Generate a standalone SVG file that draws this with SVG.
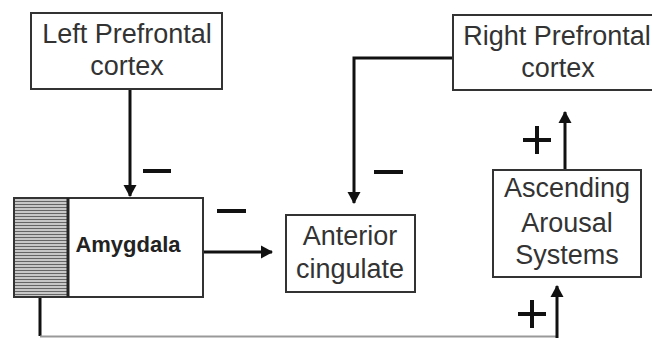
<svg xmlns="http://www.w3.org/2000/svg" width="652" height="338" viewBox="0 0 652 338">
<style>
.box{fill:#fff;stroke:#333;stroke-width:2}
.t{font-family:"Liberation Sans",Arial,sans-serif;font-size:27px;fill:#333;text-anchor:middle}
.b{font-family:"Liberation Sans",Arial,sans-serif;font-size:22px;font-weight:bold;fill:#222;text-anchor:middle}
.c{fill:none;stroke:#111;stroke-width:3}
.sign{stroke:#111;stroke-width:4;fill:none}
</style>
<defs>
<marker id="ah" markerWidth="12" markerHeight="15" viewBox="0 0 12 15" refX="11" refY="7.5" orient="auto" markerUnits="userSpaceOnUse">
<path d="M0,1 L12,7.5 L0,14 Z" fill="#111"/>
</marker>
<pattern id="hatch" width="6" height="3" patternUnits="userSpaceOnUse">
<rect width="6" height="3" fill="#c8c8c8"/>
<rect width="6" height="1" fill="#666"/>
</pattern>
</defs>
<rect width="652" height="338" fill="#fff"/>
<g id="connectors">
<path class="c" d="M130,89 V196" marker-end="url(#ah)"/>
<path class="c" d="M453,58 H354 V203" marker-end="url(#ah)"/>
<path class="c" d="M203,252 H272" marker-end="url(#ah)"/>
<path class="c" d="M565,170 V112" marker-end="url(#ah)"/>
<path class="c" d="M40,297 V336"/>
<path d="M40,336.5 H557" stroke="#999" stroke-width="2" fill="none"/>
<path class="c" d="M557,338 V286" marker-end="url(#ah)"/>
<path class="sign" d="M143,171 H171"/>
<path class="sign" d="M217,211 H246"/>
<path class="sign" d="M374,172 H403"/>
<path class="sign" d="M523,140 H551 M537,126 V154"/>
<path class="sign" d="M518,314 H546 M532,300 V328"/>
</g>
<g id="left-prefrontal">
<rect class="box" x="31" y="13" width="191" height="76"/>
<text class="t" x="127" y="43">Left Prefrontal</text>
<text class="t" x="127" y="75">cortex</text>
</g>
<g id="right-prefrontal">
<rect class="box" x="453" y="15" width="205" height="75"/>
<text class="t" x="557" y="45">Right Prefrontal</text>
<text class="t" x="558" y="77">cortex</text>
</g>
<g id="amygdala">
<rect class="box" x="14" y="198" width="189" height="99"/>
<rect x="15" y="199" width="53" height="97" fill="url(#hatch)"/>
<path d="M68,198 V297" stroke="#222" stroke-width="3"/>
<text class="b" x="128" y="252">Amygdala</text>
</g>
<g id="anterior-cingulate">
<rect class="box" x="286" y="215" width="129" height="77"/>
<text class="t" x="350" y="245">Anterior</text>
<text class="t" x="350" y="278">cingulate</text>
</g>
<g id="ascending-arousal">
<rect class="box" x="493" y="170" width="148" height="107"/>
<text class="t" x="567" y="197">Ascending</text>
<text class="t" x="567" y="232">Arousal</text>
<text class="t" x="567" y="264">Systems</text>
</g>
</svg>
